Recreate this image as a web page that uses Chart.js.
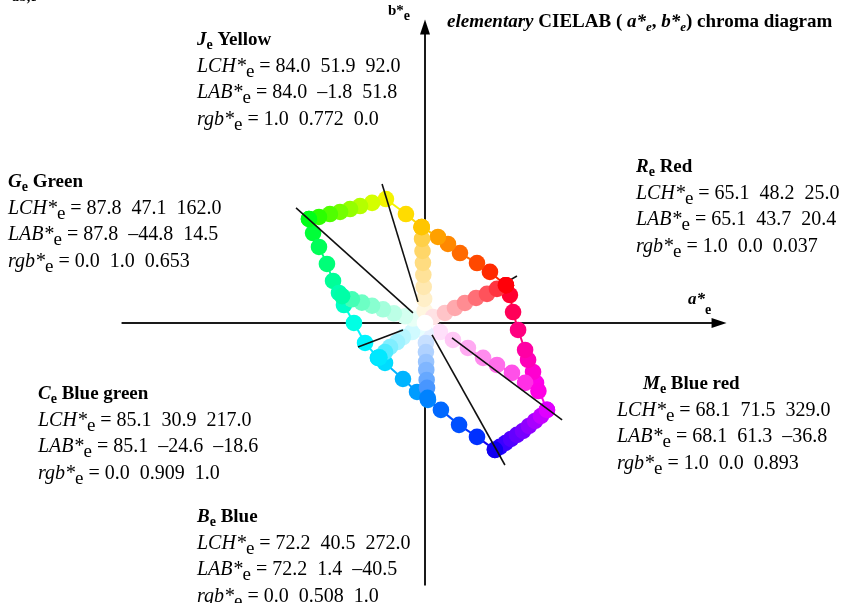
<!DOCTYPE html>
<html>
<head>
<meta charset="utf-8">
<script src="https://cdn.jsdelivr.net/npm/chart.js@4.4.1/dist/chart.umd.min.js"></script>
<style>
  html, body { margin: 0; padding: 0; background: #ffffff; }
  canvas { display: block; }
</style>
</head>
<body>
<canvas id="chroma" width="845" height="603"></canvas>
<script>
// ---- visible ranges of the a*e / b*e plane ----
const aRange = [-229.7, 227.0];
const bRange = [-151.4, 174.6];
const aAxis = [-164, 163];
const bAxis = [-142, 164];

// ---- radial series: from the achromatic centre to each elementary hue ----
const centre = [[0, 0]];
const centreColors = ['#ffffff'];

const radialR = [[4.3,3.2],[10.8,5.4],[16.2,8.1],[21.6,10.8],[27.6,13.5],[33.5,15.7],[38.9,18.4],[43.7,20.4]];
const radialRColors = ['#ffe2e4','#ffc4c8','#ffa8ad','#ff8c92','#ff6e76','#ff525b','#ff3440','#ff0009'];

const radialJ = [[-0.2,6.5],[-0.45,13.0],[-0.7,19.5],[-0.9,26.0],[-1.1,32.5],[-1.35,38.9],[-1.6,45.4],[-1.8,51.8]];
const radialJColors = ['#fff6e0','#ffefc8','#ffe8b0','#ffe298','#ffdc80','#ffd668','#ffd048','#ffc500'];

const radialG = [[-6.5,2.4],[-10.8,3.6],[-16.8,5.2],[-22.7,7.4],[-28.6,9.3],[-34.1,11.0],[-39.5,12.8],[-44.8,14.5]];
const radialGColors = ['#e8fff6','#d4fff0','#bcffe6','#a4ffdc','#88ffd0','#6cffc4','#44ffb6','#00ffa7'];

const radialC = [[-4.0,-3.0],[-7.0,-4.9],[-11.9,-7.6],[-15.1,-10.3],[-18.9,-13.0],[-21.6,-15.7],[-24.6,-18.6]];
const radialCColors = ['#e8feff','#d0faff','#b8f6ff','#a0f2ff','#80eeff','#50ebff','#00e8ff'];

const radialB = [[0.3,-5.4],[0.5,-10.8],[0.5,-15.7],[0.6,-21.1],[0.7,-25.4],[0.9,-30.8],[1.1,-35.1],[1.4,-40.5]];
const radialBColors = ['#e6f0ff','#c8e0ff','#b0d2ff','#98c4ff','#80b6ff','#66a8ff','#4896ff','#0082ff'];

const radialM = [[8.1,-4.9],[15.1,-9.2],[23.2,-13.5],[31.4,-18.9],[38.9,-22.7],[47.0,-27.0],[54.1,-32.4],[61.3,-36.8]];
const radialMColors = ['#ffe0fa','#ffc8f6','#ffaaf2','#ff8cee','#ff6eea','#ff50e8','#ff30e6','#ff00e4'];

// ---- outer boundary of maximum chroma colours ----
const edgeRJ = [[43.7,20.4],[35.1,27.6],[28.1,32.4],[18.9,37.8],[12.4,42.7],[7.0,46.5],[-1.8,51.8]];
const edgeRJColors = ['#ff0009','#ff2a00','#ff4800','#ff6a00','#ff8800','#ffa000','#ffc500'];

const edgeJG = [[-1.8,51.8],[-10.3,58.9],[-21.1,67.0],[-28.6,64.9],[-35.1,63.2],[-40.5,61.6],[-45.9,60.0],[-51.4,58.9],[-57.3,57.3],[-62.7,56.2]];
const edgeJGColors = ['#ffc500','#ffdc00','#f4f400','#d4ff00','#b4ff00','#94ff00','#74ff00','#50ff00','#2cff00','#00ff18'];

const edgeGC = [[-62.7,56.2],[-60.5,48.6],[-57.3,41.1],[-53.0,31.9],[-49.7,22.7],[-46.5,16.2],[-43.8,9.7],[-38.4,0],[-32.4,-10.8],[-25.4,-18.9]];
const edgeGCColors = ['#00ff18','#00ff38','#00ff58','#00ff78','#00ff98','#00ffb0','#00ffc8','#00ffe4','#00f4ff','#00e4ff'];

const edgeCB = [[-25.4,-18.9],[-21.6,-21.6],[-11.9,-30.3],[-4.3,-37.3],[1.6,-41.6],[8.6,-47.0],[18.4,-55.1],[28.1,-61.6],[37.8,-68.6]];
const edgeCBColors = ['#00e4ff','#00dcff','#00b4ff','#009cff','#0088ff','#0068ff','#0050ff','#0030ff','#1000f0'];

const edgeBM = [[37.8,-68.6],[40.5,-67.0],[43.5,-64.9],[46.5,-62.7],[49.7,-60.5],[53.0,-58.4],[56.2,-55.7],[59.5,-53.0],[62.7,-50.3],[65.9,-47.0]];
const edgeBMColors = ['#1000f0','#2400ff','#3a00ff','#5000ff','#6400ff','#7800ff','#9000ff','#a800ff','#c400ff','#e000ff'];

const edgeMR = [[65.9,-47.0],[60.0,-32.4],[58.4,-26.5],[55.7,-20.0],[54.1,-14.6],[50.3,-3.8],[47.6,5.9],[45.9,15.1],[43.7,20.4]];
const edgeMRColors = ['#e000ff','#ff00e8','#ff00d0','#ff00b8','#ff00a4','#ff0080','#ff0058','#ff0030','#ff0009'];

// ---- black hue lines ----
const hueLineR = [[44.3,22.2],[49.7,25.4]];
const hueLineJ = [[-3.8,11.4],[-23.2,75.1]];
const hueLineG = [[-6.5,5.4],[-69.7,62.2]];
const hueLineC = [[-11.9,-3.8],[-36.2,-13.0]];
const hueLineB = [[3.8,-6.5],[43.2,-76.8]];
const hueLineM = [[14.6,-8.1],[74.1,-52.4]];

// ---- elementary hue labels ----
const hueLetters = ['R', 'J', 'G', 'C', 'B', 'M'];
const hueNames = ['Red', 'Yellow', 'Green', 'Blue green', 'Blue', 'Blue red'];
const lchValues = ['65.1  48.2  25.0', '84.0  51.9  92.0', '87.8  47.1  162.0', '85.1  30.9  217.0', '72.2  40.5  272.0', '68.1  71.5  329.0'];
const labValues = ['65.1  43.7  20.4', '84.0  \u20131.8  51.8', '87.8  \u201344.8  14.5', '85.1  \u201324.6  \u201318.6', '72.2  1.4  \u201340.5', '68.1  61.3  \u201336.8'];
const rgbValues = ['1.0  0.0  0.037', '1.0  0.772  0.0', '0.0  1.0  0.653', '0.0  0.909  1.0', '0.0  0.508  1.0', '1.0  0.0  0.893'];

const SERIF = '"Liberation Serif", "Times New Roman", serif';

function xy(pairs) { return pairs.map(p => ({ x: p[0], y: p[1] })); }

function dotSeries(pairs, colors) {
  return {
    data: xy(pairs),
    showLine: true,
    borderWidth: 2,
    segment: { borderColor: c => colors[c.p1DataIndex] },
    borderColor: colors[colors.length - 1],
    pointBackgroundColor: colors,
    pointBorderWidth: 0,
    pointRadius: 8.3,
    pointHoverRadius: 8.3
  };
}

function hueLine(pairs, width) {
  return {
    data: xy(pairs),
    showLine: true,
    borderColor: '#111111',
    borderWidth: width,
    pointRadius: 0,
    pointHoverRadius: 0
  };
}

// draws a run of differently styled text pieces on one line
function drawRuns(ctx, x, y, runs) {
  for (const r of runs) {
    ctx.font = r.f;
    ctx.fillText(r.t, x, y + (r.dy || 0));
    x += ctx.measureText(r.t).width;
  }
}

const axesPlugin = {
  id: 'abAxes',
  beforeDatasetsDraw(chart) {
    const ctx = chart.ctx;
    const sx = chart.scales.x, sy = chart.scales.y;
    const x0 = sx.getPixelForValue(0), y0 = sy.getPixelForValue(0);
    const xl = sx.getPixelForValue(aAxis[0]), xr = sx.getPixelForValue(aAxis[1]);
    const yb = sy.getPixelForValue(bAxis[0]), yt = sy.getPixelForValue(bAxis[1]);
    ctx.save();
    ctx.strokeStyle = '#1a1a1a';
    ctx.fillStyle = '#000000';
    ctx.lineWidth = 2;
    ctx.beginPath();
    ctx.moveTo(xl, y0); ctx.lineTo(xr - 12, y0);
    ctx.moveTo(x0, yb); ctx.lineTo(x0, yt + 12);
    ctx.stroke();
    // arrow heads
    ctx.beginPath();
    ctx.moveTo(xr, y0); ctx.lineTo(xr - 15, y0 - 5); ctx.lineTo(xr - 15, y0 + 5); ctx.closePath();
    ctx.fill();
    ctx.beginPath();
    ctx.moveTo(x0, yt); ctx.lineTo(x0 - 5, yt + 15); ctx.lineTo(x0 + 5, yt + 15); ctx.closePath();
    ctx.fill();
    ctx.restore();
  },
  afterDraw(chart) {
    const ctx = chart.ctx;
    ctx.save();
    ctx.fillStyle = '#000000';
    ctx.textBaseline = 'alphabetic';
    const B = s => `bold ${s}px ${SERIF}`;
    const BI = s => `italic bold ${s}px ${SERIF}`;
    const I = s => `italic ${s}px ${SERIF}`;
    const R = s => `${s}px ${SERIF}`;

    // cut-off caption at the very top
    drawRuns(ctx, 12, 1, [{ t: 'ab,e', f: B(14) }]);

    // diagram title
    drawRuns(ctx, 447, 27, [
      { t: 'elementary', f: BI(19) },
      { t: ' CIELAB ( ', f: B(19) },
      { t: 'a*', f: BI(19) },
      { t: 'e', f: BI(13), dy: 4 },
      { t: ', ', f: B(19) },
      { t: 'b*', f: BI(19) },
      { t: 'e', f: BI(13), dy: 4 },
      { t: ') chroma diagram', f: B(19) }
    ]);

    // axis names
    drawRuns(ctx, 388, 15, [{ t: 'b*', f: B(15) }, { t: 'e', f: B(14), dy: 5 }]);
    drawRuns(ctx, 688, 304, [{ t: 'a*', f: BI(17) }, { t: 'e', f: B(14), dy: 10 }]);

    // hue blocks: [title x, line x, title baseline]
    const blocks = [
      [636, 636, 172],
      [197, 197, 45],
      [8, 8, 187],
      [38, 38, 399],
      [197, 197, 522],
      [643, 617, 389]
    ];
    blocks.forEach((b, i) => {
      const [tx, lx, ty] = b;
      drawRuns(ctx, tx, ty, [
        { t: hueLetters[i], f: BI(19) },
        { t: 'e', f: B(14), dy: 4 },
        { t: ' ' + hueNames[i], f: B(19) }
      ]);
      const lines = [['LCH*', lchValues[i]], ['LAB*', labValues[i]], ['rgb*', rgbValues[i]]];
      lines.forEach((ln, k) => {
        drawRuns(ctx, lx, ty + 26.5 * (k + 1), [
          { t: ln[0], f: I(20) },
          { t: 'e', f: R(19), dy: 5 },
          { t: ' = ' + ln[1], f: R(20) }
        ]);
      });
    });
    ctx.restore();
  }
};

const datasets = [
  hueLine(hueLineJ, 1.6),
  hueLine(hueLineG, 1.6),
  hueLine(hueLineC, 1.6),
  hueLine(hueLineB, 1.6),
  hueLine(hueLineM, 1.6),
  dotSeries(centre, centreColors),
  dotSeries(radialR, radialRColors),
  dotSeries(radialJ, radialJColors),
  dotSeries(radialG, radialGColors),
  dotSeries(radialC, radialCColors),
  dotSeries(radialB, radialBColors),
  dotSeries(radialM, radialMColors),
  dotSeries(edgeRJ, edgeRJColors),
  dotSeries(edgeJG, edgeJGColors),
  dotSeries(edgeGC, edgeGCColors),
  dotSeries(edgeCB, edgeCBColors),
  dotSeries(edgeBM, edgeBMColors),
  dotSeries(edgeMR, edgeMRColors),
  hueLine(hueLineR, 1.6)
];

new Chart(document.getElementById('chroma'), {
  type: 'scatter',
  data: { datasets },
  options: {
    responsive: false,
    animation: false,
    layout: { padding: 0, autoPadding: false },
    plugins: { legend: { display: false }, tooltip: { enabled: false } },
    scales: {
      x: { type: 'linear', min: aRange[0], max: aRange[1], display: false },
      y: { type: 'linear', min: bRange[0], max: bRange[1], display: false }
    }
  },
  plugins: [axesPlugin]
});
</script>
</body>
</html>
